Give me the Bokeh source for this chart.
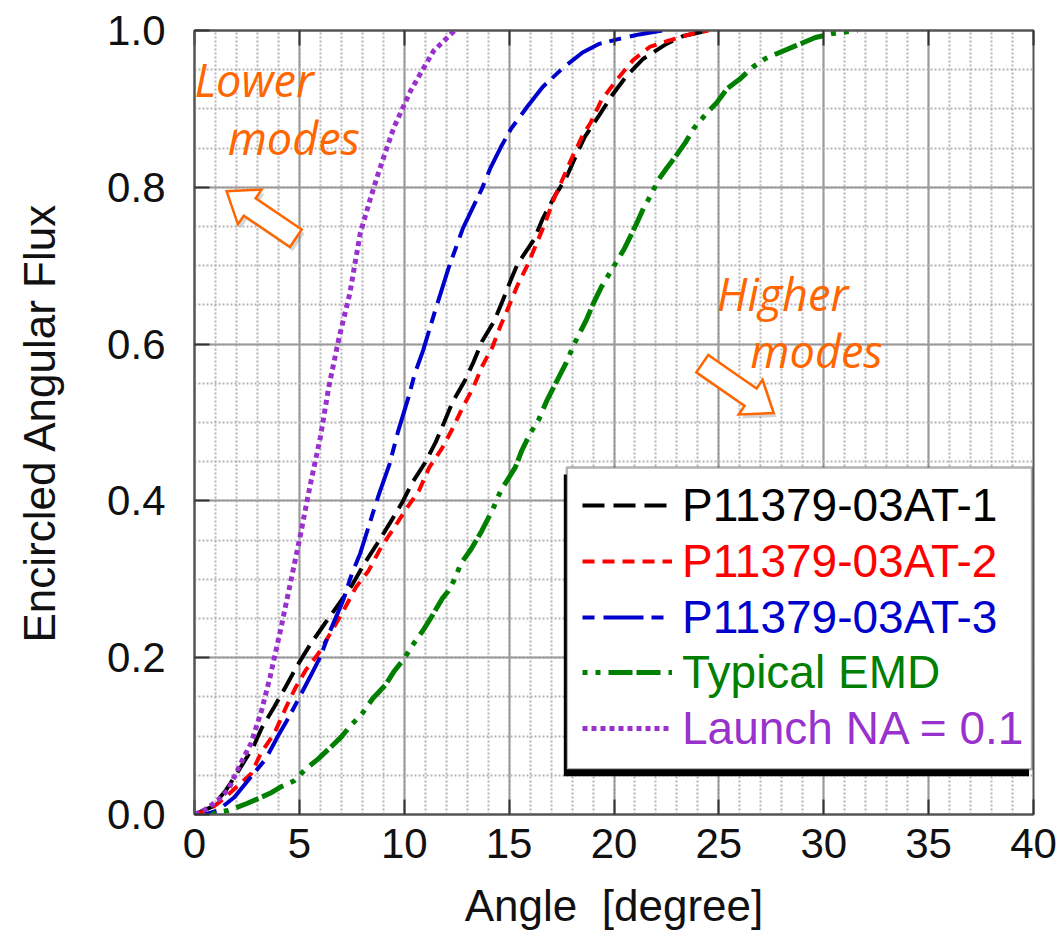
import numpy as np
from bokeh.plotting import figure
from bokeh.models import (Range1d, SingleIntervalTicker, LinearAxis, Legend, LegendItem,
                          BoxAnnotation, Label, PrintfTickFormatter, CustomJSTickFormatter)
from bokeh.embed import file_html
from bokeh.resources import INLINE

# ---------------- data ----------------
at1_x = [0, 0.85, 1.5, 2.1, 2.8, 3.2, 3.8, 4.35, 4.9, 5.5, 6.2, 7.0, 7.5, 8.1, 8.7, 9.3, 9.9, 10.4,
         11.0, 11.5, 11.9, 12.3, 12.9, 13.3, 13.7, 14.3, 14.7, 15.1, 15.4, 16.2, 16.6, 17.2, 17.7,
         18.2, 18.6, 19.3, 19.9, 20.6, 21.4, 22.5, 23.3, 24.5]
at1_y = [0, 0.010, 0.031, 0.056, 0.086, 0.110, 0.137, 0.163, 0.190, 0.216, 0.243, 0.273, 0.292,
         0.320, 0.345, 0.371, 0.398, 0.424, 0.449, 0.475, 0.500, 0.526, 0.554, 0.577, 0.603, 0.630,
         0.656, 0.683, 0.702, 0.734, 0.760, 0.790, 0.811, 0.841, 0.864, 0.892, 0.917, 0.942, 0.964,
         0.983, 0.993, 1.0]

at2_x = [0, 0.7, 1.3, 2.0, 2.7, 3.2, 3.8, 4.3, 4.8, 5.3, 5.9, 6.5, 7.1, 7.7, 8.3, 8.9, 9.5, 10.1,
         10.7, 11.2, 11.8, 12.3, 12.8, 13.3, 13.7, 14.2, 14.6, 15.0, 15.4, 15.9, 16.3, 16.7, 17.1,
         17.9, 18.5, 18.9, 19.4, 20.1, 20.9, 21.7, 22.6, 23.6, 24.5]
at2_y = [0, 0.006, 0.018, 0.035, 0.052, 0.080, 0.103, 0.133, 0.161, 0.184, 0.205, 0.232, 0.260,
         0.290, 0.311, 0.341, 0.365, 0.390, 0.413, 0.443, 0.467, 0.492, 0.520, 0.545, 0.571, 0.596,
         0.624, 0.649, 0.675, 0.702, 0.728, 0.753, 0.783, 0.832, 0.866, 0.883, 0.911, 0.936, 0.962,
         0.979, 0.987, 0.995, 1.0]

at3_x = [0.5, 1.1, 1.9, 2.6, 3.4, 4.0, 4.5, 5.5, 6.0, 6.4, 7.1, 7.5, 7.9, 8.5, 8.8, 9.3, 9.7, 10.2,
         10.5, 10.9, 11.5, 12.1, 12.8, 13.7, 14.1, 14.6, 15.1, 15.9, 16.6, 17.6, 18.5, 19.3, 20.2,
         21.2, 22.3]
at3_y = [0, 0.005, 0.022, 0.045, 0.071, 0.101, 0.124, 0.175, 0.201, 0.230, 0.274, 0.307, 0.333,
         0.384, 0.409, 0.447, 0.488, 0.532, 0.562, 0.592, 0.645, 0.696, 0.748, 0.798, 0.824, 0.851,
         0.875, 0.904, 0.928, 0.953, 0.972, 0.983, 0.989, 0.995, 1.0]

emd_x = [0.8, 1.1, 1.6, 2.5, 3.6, 4.1, 4.75, 5.3, 5.9, 6.5, 7.0, 7.4, 8.0, 8.5, 9.1, 9.5, 10.0,
         10.4, 10.9, 11.3, 11.8, 12.1, 12.4, 12.7, 13.2, 13.7, 14.2, 14.6, 15.3, 15.6, 16.0, 16.4,
         16.8, 17.2, 17.7, 18.1, 18.7, 19.0, 19.4, 20.1, 20.5, 21.1, 21.4, 21.8, 22.1, 22.5, 22.9,
         23.4, 23.8, 24.4, 24.9, 25.4, 26.0, 26.6, 27.2, 27.9, 28.7, 29.6, 30.4, 31.6]
emd_y = [0, 0.003, 0.005, 0.014, 0.027, 0.035, 0.043, 0.058, 0.071, 0.086, 0.099, 0.112, 0.129,
         0.148, 0.165, 0.182, 0.199, 0.216, 0.235, 0.252, 0.275, 0.285, 0.300, 0.320, 0.339, 0.362,
         0.388, 0.413, 0.443, 0.464, 0.486, 0.503, 0.528, 0.549, 0.575, 0.600, 0.632, 0.651, 0.673,
         0.704, 0.722, 0.755, 0.773, 0.792, 0.809, 0.824, 0.838, 0.857, 0.875, 0.894, 0.908, 0.926,
         0.938, 0.953, 0.964, 0.972, 0.981, 0.991, 0.996, 1.0]

na_x = [0, 0.5, 1.1, 1.6, 2.2, 2.7, 3.2, 3.6, 4.1, 4.5, 5.0, 5.5, 6.0, 6.4, 6.9, 7.4, 7.9, 8.4,
        8.8, 9.5, 10.3, 10.9, 11.4, 11.9, 12.4]
na_y = [0, 0.006, 0.018, 0.031, 0.065, 0.091, 0.133, 0.175, 0.235, 0.286, 0.350, 0.418, 0.481,
        0.545, 0.609, 0.664, 0.741, 0.787, 0.821, 0.876, 0.923, 0.951, 0.974, 0.987, 1.0]

series_names = ["P11379-03AT-1", "P11379-03AT-2", "P11379-03AT-3", "Typical EMD", "Launch NA = 0.1"]
series_x = [at1_x, at2_x, at3_x, emd_x, na_x]
series_y = [at1_y, at2_y, at3_y, emd_y, na_y]

x_ticks_step = 5
y_ticks_step = 0.2

# ---------------- styles ----------------
colors = ["#000000", "#FF0000", "#0000CC", "#007F00", "#9932CC"]
dashes = ["22 9", "12 8", "12 9 40 8", "5 8 5 8 24 4 24 8", "5 4"]
widths = [4, 4, 4, 5, 5]
FONT = "Liberation Sans"
ORANGE = "#FF6600"

W, H = 1057, 939
FRAME_W, FRAME_H = 839, 784
p = figure(width=W, height=H, output_backend="svg", toolbar_location=None,
           x_range=Range1d(0, 40), y_range=Range1d(0, 1.0),
           min_border_left=194, min_border_right=W - 194 - FRAME_W, min_border_top=30,
           min_border_bottom=H - 30 - FRAME_H,
           background_fill_color="white", border_fill_color="white")

p.xaxis.ticker = SingleIntervalTicker(interval=x_ticks_step, num_minor_ticks=5)
p.yaxis.ticker = SingleIntervalTicker(interval=y_ticks_step, num_minor_ticks=4)
p.yaxis.formatter = PrintfTickFormatter(format="%.1f")

for ax in (p.xaxis[0], p.yaxis[0]):
    ax.major_label_text_font = FONT
    ax.major_label_text_font_size = "42px"
    ax.major_label_text_color = "#111111"
    ax.axis_label_text_font = FONT
    ax.axis_label_text_font_size = "44px"
    ax.axis_label_text_font_style = "normal"
    ax.axis_label_text_color = "#111111"
    ax.major_tick_in = 15
    ax.major_tick_out = 0
    ax.minor_tick_in = 0
    ax.minor_tick_out = 0
    ax.major_tick_line_color = "#333333"
    ax.major_tick_line_width = 2
    ax.axis_line_color = "#555555"
    ax.axis_line_width = 2

p.xaxis.axis_label = "Angle\u00a0 [degree]"
p.yaxis.axis_label = "Encircled Angular Flux"
p.xaxis.major_label_standoff = 14
p.xaxis.axis_label_standoff = 20
p.xaxis.major_label_text_line_height = 0.9
p.xaxis.axis_label_text_line_height = 0.9
p.yaxis.major_label_standoff = 29
p.yaxis.axis_label_standoff = 40

top_axis = LinearAxis(ticker=SingleIntervalTicker(interval=x_ticks_step),
                      formatter=CustomJSTickFormatter(code="return ''"),
                      major_tick_in=15, major_tick_out=0, minor_tick_in=0, minor_tick_out=0,
                      major_tick_line_color="#333333", major_tick_line_width=2,
                      axis_line_color="#555555", axis_line_width=2,
                      major_label_text_font_size="1px", major_label_standoff=0)
p.add_layout(top_axis, "above")

p.outline_line_color = "#555555"
p.outline_line_width = 2

for g in (p.xgrid[0], p.ygrid[0]):
    g.grid_line_color = "#9a9a9a"
    g.grid_line_width = 2
    g.minor_grid_line_color = "#b4b4b4"
    g.minor_grid_line_width = 2
    g.minor_grid_line_dash = "2 2"

renderers = []
for xs, ys, c, d, w in zip(series_x, series_y, colors, dashes, widths):
    r = p.line(xs, ys, line_color=c, line_width=w, line_dash=d)
    renderers.append(r)

# ---------------- annotations: block arrows ----------------
PX_PER_X = FRAME_W / 40.0
PX_PER_Y = FRAME_H / 1.0
lower_arrow = ((4.83, 0.735), (1.53, 0.795))   # (tail, tip) in data units
higher_arrow = ((24.21, 0.575), (27.61, 0.512))


def block_arrow(tail, tip, shaft=10.5, head=21, head_len=28):
    t = np.array([tail[0] * PX_PER_X, tail[1] * PX_PER_Y])
    h = np.array([tip[0] * PX_PER_X, tip[1] * PX_PER_Y])
    u = (h - t) / np.linalg.norm(h - t)
    n = np.array([-u[1], u[0]])
    b = h - u * head_len
    pts = [t + n * shaft, b + n * shaft, b + n * head, h, b - n * head, b - n * shaft, t - n * shaft]
    xs = [q[0] / PX_PER_X for q in pts]
    ys = [q[1] / PX_PER_Y for q in pts]
    return xs, ys


for tail, tip in (lower_arrow, higher_arrow):
    xs, ys = block_arrow(tail, tip)
    p.patch([x + 3 / PX_PER_X for x in xs], [y - 4 / PX_PER_Y for y in ys],
            fill_color="#888888", fill_alpha=0.35, line_color=None)
    p.patch(xs, ys, fill_color="white", line_color=ORANGE, line_width=2.5, line_join="miter")

note_font = "Open Sans"
for txt, x, y in (("Lower", 0.0, 0.938), ("modes", 1.58, 0.864),
                  ("Higher", 24.9, 0.665), ("modes", 26.5, 0.592)):
    p.add_layout(Label(x=x, y=y, text=txt, text_font=note_font, text_font_size="45px",
                       text_font_style="italic", text_color=ORANGE, text_baseline="alphabetic",
                       text_align="left"))

# ---------------- legend ----------------
box_left, box_right, box_top, box_bottom = 17.75, 39.93, 0.4427, 0.0576
p.add_layout(BoxAnnotation(left=box_left - 3 / PX_PER_X, right=box_right - 3 / PX_PER_X,
                           top=box_top - 7 / PX_PER_Y, bottom=box_bottom - 7 / PX_PER_Y,
                           fill_color="black", fill_alpha=1, line_color=None))
p.add_layout(BoxAnnotation(left=box_left, right=box_right, top=box_top, bottom=box_bottom,
                           fill_color="white", fill_alpha=1, line_color="black", line_width=2.5))

row_h = 55.8
first_row_center = 477     # px below frame top
glyph_left = 388           # px right of frame left
for i, (name, r, c) in enumerate(zip(series_names, renderers, colors)):
    center_from_top = first_row_center + i * row_h
    vy = FRAME_H - (center_from_top + 25)
    leg = Legend(items=[LegendItem(label=name, renderers=[r])], location=(glyph_left, vy),
                 label_text_color=c, label_text_font=FONT, label_text_font_size="46px",
                 glyph_width=90, glyph_height=50, label_height=50, label_standoff=10,
                 padding=0, margin=0, spacing=0, border_line_color=None,
                 background_fill_alpha=0)
    p.add_layout(leg)

open("out.html", "w").write(file_html(p, INLINE))
